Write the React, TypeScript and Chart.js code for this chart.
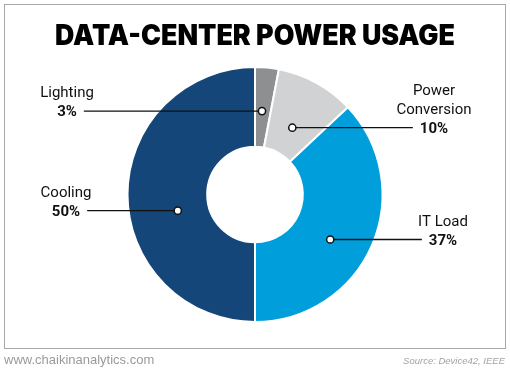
import React, { useEffect, useRef } from "react";
import { Chart, registerables } from "chart.js";

Chart.register(...registerables);

// ---- data ----
const TITLE = "DATA-CENTER POWER USAGE";
const categories = ["Lighting", "Power Conversion", "IT Load", "Cooling"];
const labelLines = [["Lighting"], ["Power", "Conversion"], ["IT Load"], ["Cooling"]];
const values = [3, 10, 37, 50];
const colors = ["#8e8f91", "#d1d2d4", "#009fdc", "#15467a"];
const SITE = "www.chaikinanalytics.com";
const SOURCE = "Source: Device42, IEEE";

// ---- callout layout ----
const calloutCenterX = [67, 434, 443, 66];
const dotAngleShiftDeg = [-0.6, 0.4, 7.5, -11.8];
const dotRadiusFrac = [0.45, 0.36, 0.5, 0.39];

const W = 510;
const H = 372;

const overlay = {
  id: "overlay",
  afterDraw(chart: any) {
    const ctx: CanvasRenderingContext2D = chart.ctx;
    ctx.save();

    // card border
    ctx.strokeStyle = "#a8a8a8";
    ctx.lineWidth = 1;
    ctx.strokeRect(4.5, 4.5, 501, 344);

    // title
    ctx.fillStyle = "#000";
    ctx.font = "900 28px Inter, 'DejaVu Sans', sans-serif";
    ctx.textBaseline = "alphabetic";
    ctx.textAlign = "left";
    const tw = ctx.measureText(TITLE).width;
    const target = 400;
    ctx.save();
    ctx.translate(255 - target / 2, 45);
    ctx.scale(target / tw, 1);
    ctx.fillText(TITLE, 0, 0);
    ctx.restore();

    // footer
    ctx.fillStyle = "#9a9a9a";
    ctx.font = "13px 'Liberation Sans', Arial, sans-serif";
    ctx.textAlign = "left";
    ctx.fillText(SITE, 4, 364);
    ctx.fillStyle = "#a3a3a3";
    ctx.font = "italic 9.5px 'Liberation Sans', Arial, sans-serif";
    ctx.textAlign = "right";
    ctx.fillText(SOURCE, 505, 364);

    // callouts
    const meta = chart.getDatasetMeta(0);
    meta.data.forEach((arc: any, i: number) => {
      const p = arc.getProps(["x", "y", "startAngle", "endAngle", "innerRadius", "outerRadius"], true);
      const ang = (p.startAngle + p.endAngle) / 2 + (dotAngleShiftDeg[i] * Math.PI) / 180;
      const r = p.innerRadius + dotRadiusFrac[i] * (p.outerRadius - p.innerRadius);
      const dx = p.x + Math.cos(ang) * r;
      const dy = p.y + Math.sin(ang) * r;
      const cx = calloutCenterX[i];
      const pct = values[i] + "%";

      ctx.font = "bold 15px Roboto, 'Liberation Sans', sans-serif";
      const pw = ctx.measureText(pct).width;
      const lineEnd = cx < dx ? cx + pw / 2 + 7 : cx - pw / 2 - 7;

      ctx.strokeStyle = "#111";
      ctx.lineWidth = 1.3;
      ctx.beginPath();
      ctx.moveTo(lineEnd, dy);
      ctx.lineTo(dx, dy);
      ctx.stroke();

      ctx.beginPath();
      ctx.arc(dx, dy, 3.6, 0, Math.PI * 2);
      ctx.fillStyle = "#fff";
      ctx.fill();
      ctx.lineWidth = 1.5;
      ctx.strokeStyle = "#111";
      ctx.stroke();

      ctx.fillStyle = "#111";
      ctx.textAlign = "center";
      ctx.textBaseline = "alphabetic";
      ctx.font = "bold 15px Roboto, 'Liberation Sans', sans-serif";
      ctx.fillText(pct, cx, dy + 5.3);
      ctx.font = "15px Roboto, 'Liberation Sans', sans-serif";
      const lines = labelLines[i];
      lines.forEach((t, k) => {
        const off = (lines.length - k) * 19;
        ctx.fillText(t, cx, dy + 5.3 - off);
      });
    });

    ctx.restore();
  },
};

export default function App() {
  const ref = useRef<HTMLCanvasElement | null>(null);
  useEffect(() => {
    if (!ref.current) return;
    const chart = new Chart(ref.current, {
      type: "doughnut",
      data: {
        labels: categories,
        datasets: [
          {
            data: values,
            backgroundColor: colors,
            borderColor: "#ffffff",
            borderWidth: 2,
          },
        ],
      },
      options: {
        responsive: false,
        animation: false,
        cutout: "37.5%",
        layout: { padding: { left: 126.5, right: 126.5, top: 66, bottom: 49 } },
        plugins: { legend: { display: false }, tooltip: { enabled: false }, title: { display: false } },
        events: [],
      },
      plugins: [overlay],
    });
    return () => chart.destroy();
  }, []);
  return (
    <div style={{ position: "fixed", left: 0, top: 0, width: W, height: H, background: "#fff" }}>
      <canvas ref={ref} width={W} height={H} style={{ width: W, height: H, display: "block" }} />
    </div>
  );
}
